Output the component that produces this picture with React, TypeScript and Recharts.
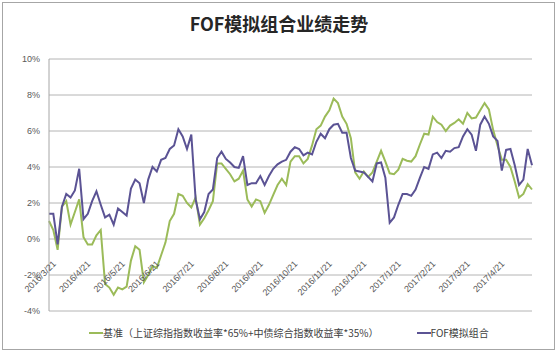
import React from 'react';
import { LineChart, Line, XAxis, YAxis, CartesianGrid } from 'recharts';

const tickLabels = [
  '2016/3/21', '2016/4/21', '2016/5/21', '2016/6/21', '2016/7/21', '2016/8/21', '2016/9/21',
  '2016/10/21', '2016/11/21', '2016/12/21', '2017/1/21', '2017/2/21', '2017/3/21', '2017/4/21',
];
const tickIndex = [0, 8, 16, 24, 32, 40, 48, 56, 64, 72, 80, 88, 96, 104];

const benchmark = [
  1.0, 0.5, -0.6, 1.8, 2.1, 0.8, 1.5, 2.2, 0.1, -0.3,
  -0.3, 0.2, 0.5, -2.5, -2.7, -3.1, -2.7, -2.8, -2.65, -1.2,
  -0.4, -0.6, -2.4, -2.0, -1.5, -1.6, -0.9, -0.2, 1.0, 1.4,
  2.5, 2.4, 2.0, 1.75, 2.3, 0.8, 1.15, 1.6, 2.1, 4.2,
  4.2, 3.9, 3.6, 3.2, 3.35, 3.8, 2.2, 1.8, 2.2, 2.1,
  1.45, 1.9, 2.45, 3.0, 3.35, 3.0, 4.3, 4.6, 4.6, 4.2,
  4.45, 5.2, 6.1, 6.3, 6.8, 7.15, 7.8, 7.55, 6.8, 6.4,
  5.6, 3.7, 3.35, 3.75, 3.45, 3.7, 4.3, 4.9, 4.3, 3.65,
  3.6, 3.85, 4.45, 4.35, 4.3, 4.6, 5.25, 5.85, 5.8, 6.8,
  6.5, 6.35, 6.0, 6.3, 6.45, 6.65, 6.4, 7.0, 6.7, 6.75,
  7.15, 7.55, 7.2, 6.05, 5.2, 4.4, 4.4, 4.0, 3.2, 2.3,
  2.5, 3.05, 2.75,
];

const fof = [
  1.4, 1.4, -0.3, 1.8, 2.5, 2.3, 2.7, 3.9, 1.1, 1.4,
  2.1, 2.65, 1.9, 1.2, 1.35, 0.8, 1.7, 1.5, 1.3, 2.8,
  3.3, 3.1, 2.0, 3.3, 4.0, 3.75, 4.4, 4.5, 5.0, 5.2,
  6.1, 5.7, 5.0, 5.8, 2.2, 1.1, 1.5, 2.5, 2.75, 4.5,
  4.85, 4.45, 4.25, 4.0, 3.95, 4.6, 3.0, 3.1, 3.1, 3.5,
  3.0, 3.5, 3.9, 4.15, 4.3, 4.4, 4.85, 5.1, 5.0, 4.65,
  4.8, 4.7, 5.4, 5.85, 5.6, 6.1, 6.35, 6.4, 5.9, 5.9,
  4.5, 3.8, 3.75, 3.7, 3.45, 3.2, 4.2, 4.25, 3.4, 0.9,
  1.2, 1.9, 2.5, 2.5, 2.4, 2.75, 3.4, 4.0, 3.9, 4.7,
  4.8, 4.5, 4.9, 4.85, 5.05, 5.1, 5.7, 6.1, 5.8, 4.9,
  6.35, 6.8, 6.4, 5.7, 5.45, 3.8, 4.95, 5.0, 4.1, 3.0,
  3.3, 5.0, 4.1,
];

const yTicks = [-4, -2, 0, 2, 4, 6, 8, 10];
const seriesNames = ['基准（上证综指指数收益率*65%+中债综合指数收益率*35%）', 'FOF模拟组合'];
const title = 'FOF模拟组合业绩走势';

const GREEN = '#9BBB59';
const PURPLE = '#5B5394';
const FONT = "'Liberation Sans', 'Noto Sans CJK SC', sans-serif";

const Y_MIN = -4;
const Y_MAX = 10;
const PLOT_H = 252;

const data = benchmark.map((b, i) => ({ i, bench: b, fof: fof[i] }));

function XTick(props: any) {
  const { x, y, payload } = props;
  const zeroShift = (PLOT_H * (0 - Y_MIN)) / (Y_MAX - Y_MIN);
  const idx = tickIndex.indexOf(payload.value);
  return (
    <g transform={`translate(${x + 3},${y - zeroShift + 21})`}>
      <text textAnchor="end" transform="rotate(-45)" dy="0.71em" fontSize={9} fill="#595959" fontFamily={FONT}>
        {tickLabels[idx]}
      </text>
    </g>
  );
}

export default function App() {
  return (
    <div style={{ position: 'absolute', left: 0, top: 0, width: 558, height: 353, background: '#fff', fontFamily: FONT }}>
      <div
        style={{
          position: 'absolute', left: 2, top: 2, width: 553, height: 348, boxSizing: 'border-box',
          border: '1px solid #A6A6A6',
        }}
      />
      <div
        style={{
          position: 'absolute', left: 0, top: 11, width: 558, textAlign: 'center', fontSize: 18,
          fontWeight: 'bold', color: '#262626', fontFamily: "'Noto Sans CJK SC', sans-serif", lineHeight: '24px',
        }}
      >
        {title}
      </div>
      <div style={{ position: 'absolute', left: 0, top: 0 }}>
        <LineChart width={558} height={353} data={data} margin={{ top: 59, right: 26, bottom: 0, left: 0 }}>
          <CartesianGrid vertical={false} stroke="#B4B4B4" strokeWidth={1} />
          <XAxis
            dataKey="i"
            type="number"
            domain={[0, 112]}
            ticks={tickIndex}
            interval={0}
            height={42}
            axisLine={false}
            tickLine={false}
            tickSize={0}
            tickMargin={0}
            tick={<XTick />}
          />
          <YAxis
            type="number"
            domain={[Y_MIN, Y_MAX]}
            ticks={yTicks}
            interval={0}
            width={49}
            axisLine={{ stroke: '#A6A6A6' }}
            tickLine={false}
            tickSize={0}
            tickMargin={9}
            tickFormatter={(v: number) => `${v}%`}
            tick={{ fontSize: 9, fill: '#595959', fontFamily: FONT }}
          />
          <Line type="linear" dataKey="bench" stroke={GREEN} strokeWidth={2} dot={false} isAnimationActive={false} />
          <Line type="linear" dataKey="fof" stroke={PURPLE} strokeWidth={2} dot={false} isAnimationActive={false} />
        </LineChart>
      </div>
      <div
        style={{
          position: 'absolute', left: 89, top: 326, display: 'flex', alignItems: 'center', fontSize: 10,
          color: '#404040', fontFamily: "'Noto Sans CJK SC', sans-serif", lineHeight: '14px', whiteSpace: 'nowrap',
        }}
      >
        {seriesNames.map((name, k) => (
          <div key={name} style={{ display: 'flex', alignItems: 'center', marginLeft: k === 0 ? 0 : 38 }}>
            <span style={{ display: 'inline-block', width: 14, height: 2, background: k === 0 ? GREEN : PURPLE }} />
            <span>{name}</span>
          </div>
        ))}
      </div>
    </div>
  );
}
